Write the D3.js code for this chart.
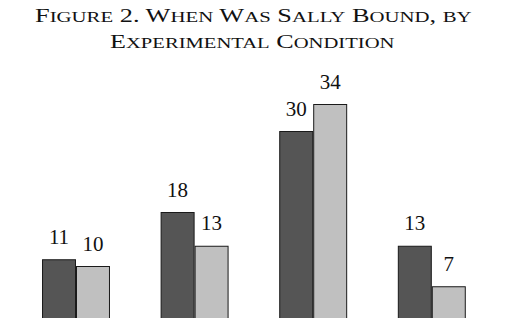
<!DOCTYPE html>
<html><head><meta charset="utf-8">
<script src="https://cdn.jsdelivr.net/npm/d3@7"></script>
<style>html,body{margin:0;padding:0;background:#fff;}svg{display:block;}</style>
</head><body>
<script>
const titleLines = ["Figure 2. When Was Sally Bound, by", "Experimental Condition"];
const categories = ["Condition 1", "Condition 2", "Condition 3", "Condition 4"];
const series = ["Series A", "Series B"];
const valuesA = [11, 18, 30, 13];
const valuesB = [10, 13, 34, 7];

const W = 515, H = 318;
const svg = d3.select("body").append("svg").attr("width", W).attr("height", H);

const data = categories.map((c, i) => ({cat: c, vals: [valuesA[i], valuesB[i]]}));

const x0 = d3.scaleBand().domain(categories).range([16.7, 491.1]).paddingInner(0.427).paddingOuter(0.2135);
const x1 = d3.scaleBand().domain(series).range([0, x0.bandwidth()]);
const y = d3.scaleLinear().domain([0, 34]).range([333.5, 104]);
const color = d3.scaleOrdinal().domain(series).range(["#555555", "#c0c0c0"]);

// title with small caps, stretched horizontally like the reference
const fontBig = 19, fontSmall = 15;
const lineSpec = [{y: 21.5, x0: 35, x1: 472}, {y: 48, x0: 110, x1: 395}];
titleLines.forEach((line, li) => {
  const spec = lineSpec[li];
  const gl = svg.append("g");
  const t = gl.append("text").attr("x", 0).attr("y", 0).attr("text-anchor", "start")
    .attr("font-family", "Liberation Serif, Times New Roman, serif").attr("fill", "#111");
  const runs = line.match(/[a-z]+|[^a-z]+/g);
  runs.forEach(r => {
    const lower = /^[a-z]+$/.test(r);
    t.append("tspan").attr("font-size", lower ? fontSmall : fontBig).text(r.toUpperCase());
  });
  const bb = t.node().getBBox();
  const sx = (spec.x1 - spec.x0) / bb.width;
  gl.attr("transform", `translate(${spec.x0 - bb.x * sx},${spec.y}) scale(${sx},1)`);
});

const g = svg.append("g");
const groups = g.selectAll("g.grp").data(data).join("g")
  .attr("transform", d => `translate(${x0(d.cat)},0)`);

groups.selectAll("rect").data(d => d.vals.map((v, i) => ({s: series[i], v})))
  .join("rect")
  .attr("x", d => x1(d.s) + 0.5)
  .attr("y", d => y(d.v) + 0.5)
  .attr("width", x1.bandwidth() - 1)
  .attr("height", d => y(0) - y(d.v))
  .attr("fill", d => color(d.s))
  .attr("stroke", "#1a1a1a").attr("stroke-width", 1);

groups.selectAll("text").data(d => d.vals.map((v, i) => ({s: series[i], v})))
  .join("text")
  .attr("x", d => x1(d.s) + x1.bandwidth() / 2)
  .attr("y", d => y(d.v) - 15.5)
  .attr("text-anchor", "middle")
  .attr("font-family", "Liberation Serif, Times New Roman, serif")
  .attr("font-size", 21).attr("fill", "#111")
  .text(d => d.v);
</script>
</body></html>
